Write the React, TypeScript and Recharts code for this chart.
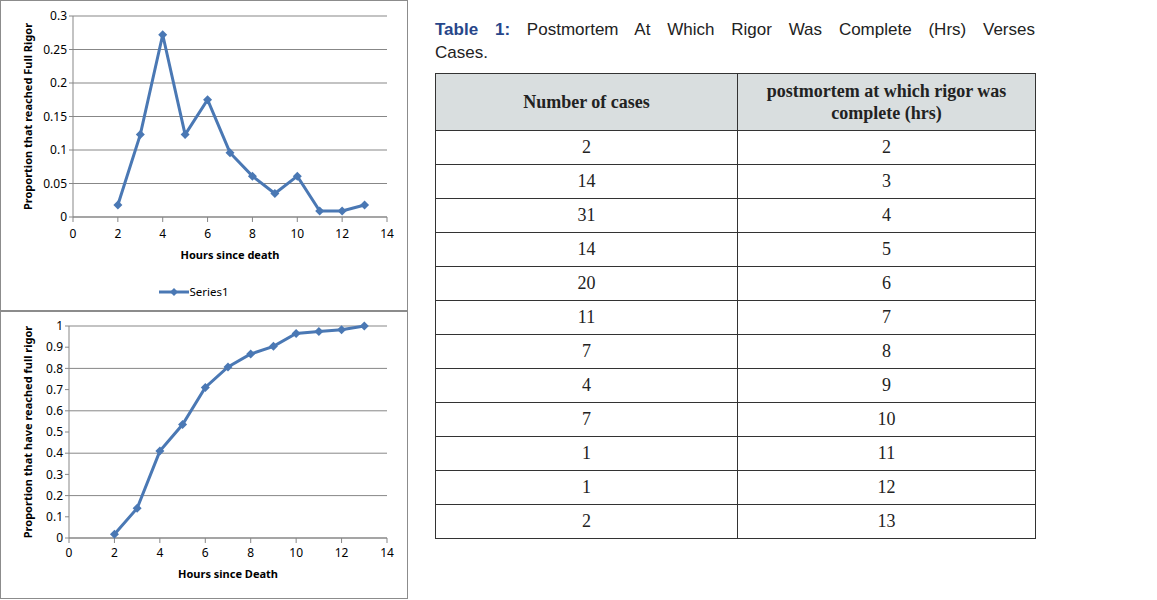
import React from 'react'
import { LineChart, Line, XAxis, YAxis, CartesianGrid, Legend } from 'recharts'

const hours = [2, 3, 4, 5, 6, 7, 8, 9, 10, 11, 12, 13]
const proportion = [0.018, 0.123, 0.272, 0.123, 0.175, 0.096, 0.061, 0.035, 0.061, 0.009, 0.009, 0.018]
const cumulative = [0.018, 0.14, 0.41, 0.535, 0.71, 0.807, 0.868, 0.904, 0.965, 0.974, 0.982, 1]

const xTicks = [0, 2, 4, 6, 8, 10, 12, 14]
const yTicksTop = [0, 0.05, 0.1, 0.15, 0.2, 0.25, 0.3]
const yTicksBottom = [0, 0.1, 0.2, 0.3, 0.4, 0.5, 0.6, 0.7, 0.8, 0.9, 1]

const cases = [2, 14, 31, 14, 20, 11, 7, 4, 7, 1, 1, 2]
const completeHrs = [2, 3, 4, 5, 6, 7, 8, 9, 10, 11, 12, 13]

const BLUE = '#4a78b4'
const GRID = '#878787'
const FONT = '"Noto Sans", "Open Sans", sans-serif'

const topData = hours.map((h, i) => ({ h, v: proportion[i] }))
const bottomData = hours.map((h, i) => ({ h, v: cumulative[i] }))

const Diamond = (props: any) => {
  const { cx, cy, index } = props
  if (cx == null || cy == null) return null
  const r = 4.5
  return (
    <path
      key={`d-${index}`}
      d={`M${cx},${cy - r}L${cx + r},${cy}L${cx},${cy + r}L${cx - r},${cy}Z`}
      fill={BLUE}
    />
  )
}

const tickStyle = { fontSize: 12, fill: '#000', fontFamily: FONT }
const titleStyle = { fontSize: 11, fontWeight: 700, fill: '#000', fontFamily: FONT, textAnchor: 'middle' as const }

const SeriesLegend = () => (
  <div style={{ display: 'flex', justifyContent: 'center', alignItems: 'center', fontFamily: FONT, fontSize: 11.5 }}>
    <svg width={30} height={10}>
      <line x1={0} y1={5} x2={30} y2={5} stroke={BLUE} strokeWidth={3} />
      <path d="M15,1L19,5L15,9L11,5Z" fill={BLUE} />
    </svg>
    <span>Series1</span>
  </div>
)

const box = {
  position: 'absolute' as const,
  left: 0,
  width: 406,
  border: '1px solid #8c8c8c',
  background: '#fff',
}

export default function App() {
  return (
    <div style={{ position: 'absolute', left: 0, top: 0, width: 1157, height: 600, background: '#fff' }}>
      <div style={{ ...box, top: 0, height: 309 }}>
        <LineChart width={406} height={309} data={topData} margin={{ top: 15, right: 20, bottom: 31, left: 0 }}>
          <CartesianGrid vertical={false} stroke={GRID} />
          <XAxis
            dataKey="h"
            type="number"
            domain={[0, 14]}
            ticks={xTicks}
            stroke={GRID}
            tick={tickStyle}
            tickSize={5}
            tickMargin={7}
            height={42}
            label={{ value: 'Hours since death', position: 'insideBottom', offset: 0, style: titleStyle }}
          />
          <YAxis
            type="number"
            domain={[0, 0.3]}
            ticks={yTicksTop}
            stroke={GRID}
            tick={tickStyle}
            tickSize={4}
            tickMargin={2}
            width={72}
            label={{ value: 'Proportion that reached Full Rigor', angle: -90, position: 'insideLeft', offset: 27, style: titleStyle }}
          />
          <Legend
            verticalAlign="bottom"
            height={20}
            wrapperStyle={{ top: 283, bottom: 'auto' }}
            content={() => <SeriesLegend />}
          />
          <Line
            dataKey="v"
            stroke={BLUE}
            strokeWidth={3}
            dot={<Diamond />}
            activeDot={false}
            isAnimationActive={false}
          />
        </LineChart>
      </div>

      <div style={{ ...box, top: 311, height: 286 }}>
        <LineChart width={406} height={286} data={bottomData} margin={{ top: 14, right: 20, bottom: 20, left: 0 }}>
          <CartesianGrid vertical={false} stroke={GRID} />
          <XAxis
            dataKey="h"
            type="number"
            domain={[0, 14]}
            ticks={xTicks}
            stroke={GRID}
            tick={tickStyle}
            tickSize={5}
            tickMargin={5}
            height={40}
            label={{ value: 'Hours since Death', position: 'insideBottom', offset: 0, style: titleStyle }}
          />
          <YAxis
            type="number"
            domain={[0, 1]}
            ticks={yTicksBottom}
            stroke={GRID}
            tick={tickStyle}
            tickSize={4}
            tickMargin={2}
            width={68}
            label={{ value: 'Proportion that have reached full rigor', angle: -90, position: 'insideLeft', offset: 27, style: titleStyle }}
          />
          <Line
            dataKey="v"
            stroke={BLUE}
            strokeWidth={3}
            dot={<Diamond />}
            activeDot={false}
            isAnimationActive={false}
          />
        </LineChart>
      </div>

      <div style={{ position: 'absolute', left: 435, top: 18, width: 600, fontFamily: '"Liberation Sans", Arial, sans-serif', fontSize: 17, lineHeight: '23px', color: '#222' }}>
        <div style={{ textAlign: 'justify', textAlignLast: 'justify' }}>
          <span style={{ color: '#27468a', fontWeight: 700 }}>Table 1:</span> Postmortem At Which Rigor Was Complete (Hrs) Verses
        </div>
        <div>Cases.</div>
      </div>

      <table
        style={{
          position: 'absolute',
          left: 435,
          top: 73,
          width: 601,
          borderCollapse: 'collapse',
          fontFamily: '"Liberation Serif", "DejaVu Serif", serif',
          fontSize: 18,
          color: '#222',
          textAlign: 'center',
        }}
      >
        <thead>
          <tr style={{ height: 57, background: '#d9dedf' }}>
            <th style={{ border: '1px solid #333', width: 299, fontWeight: 700, paddingTop: 2 }}>Number of cases</th>
            <th style={{ border: '1px solid #333', fontWeight: 700, lineHeight: '22px' }}>
              postmortem at which rigor was
              <br />
              complete (hrs)
            </th>
          </tr>
        </thead>
        <tbody>
          {cases.map((c, i) => (
            <tr key={i} style={{ height: 34 }}>
              <td style={{ border: '1px solid #333', padding: 0 }}>{c}</td>
              <td style={{ border: '1px solid #333', padding: 0 }}>{completeHrs[i]}</td>
            </tr>
          ))}
        </tbody>
      </table>
    </div>
  )
}
